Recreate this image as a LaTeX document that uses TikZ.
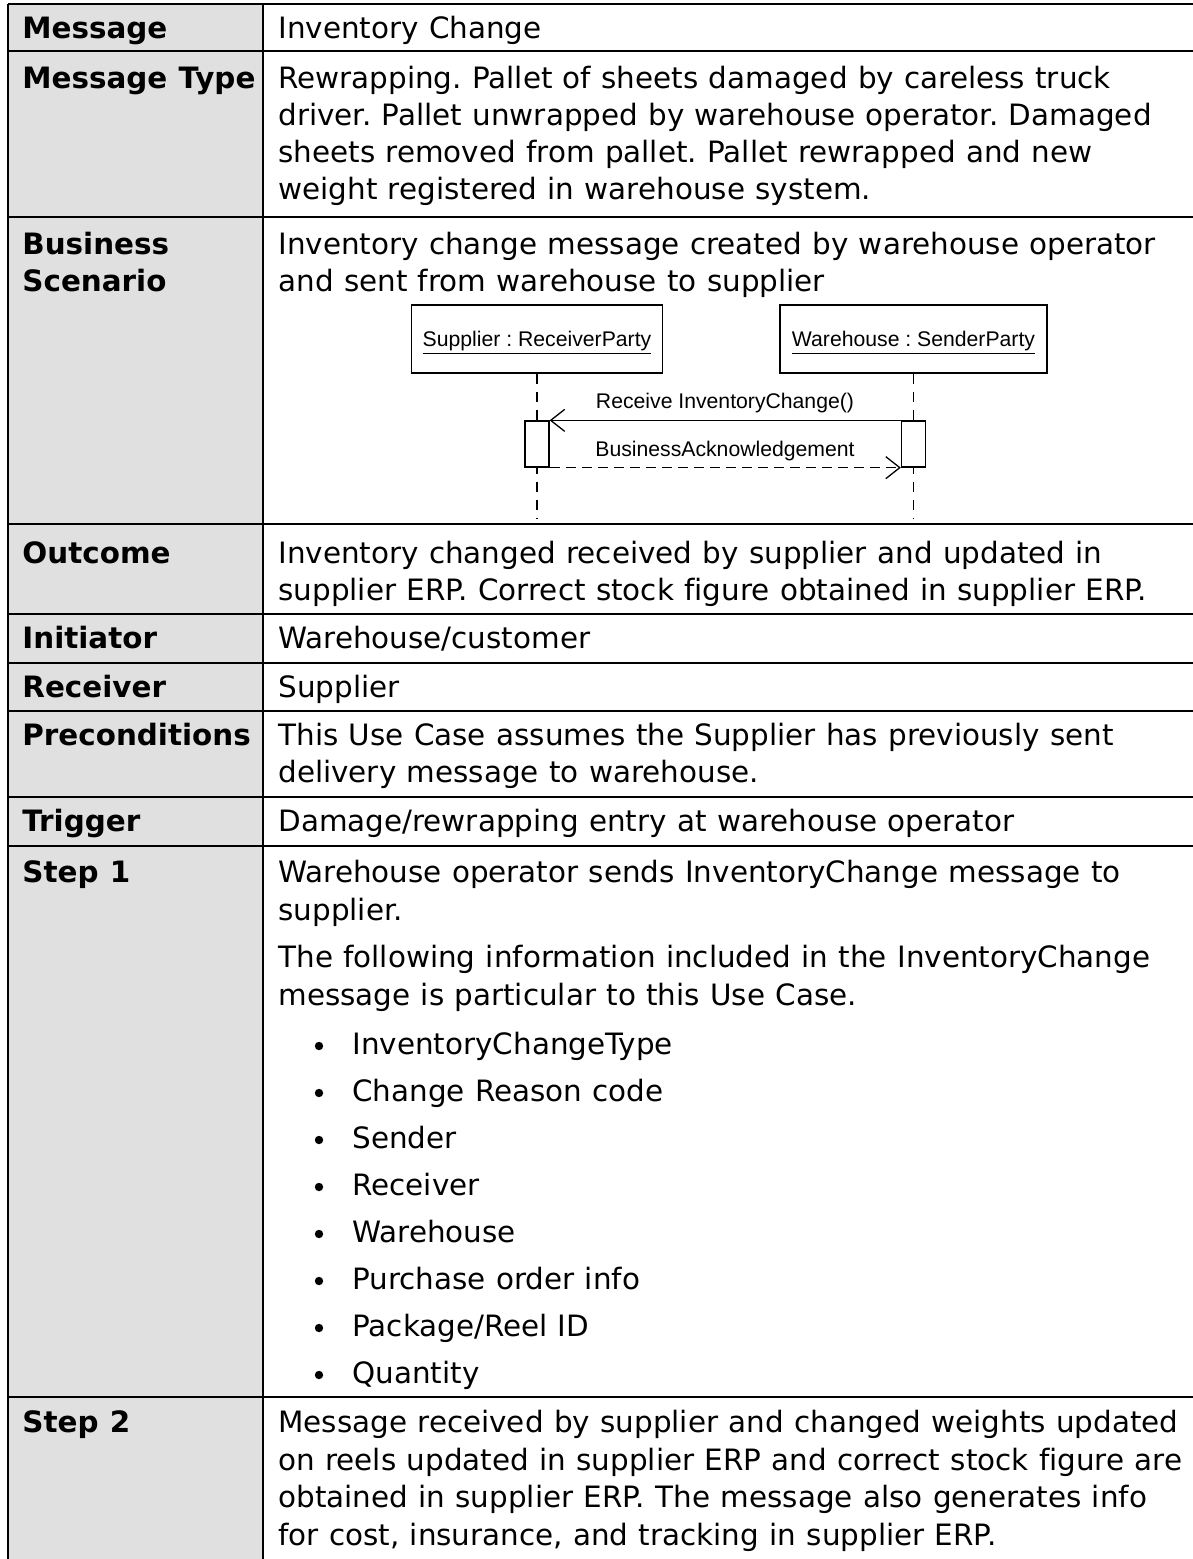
\documentclass[tikz,border=0pt]{standalone}
\usepackage{fontspec}
\setmainfont{DejaVu Sans}[Ligatures={NoCommon},WordSpace={1.107,0,0}]
\newfontfamily\umlfont{Liberation Sans}
\usetikzlibrary{arrows.meta}
\definecolor{hdrgray}{RGB}{224,224,224}
\frenchspacing

\begin{document}
\begin{tikzpicture}[x=0.5pt,y=-0.5pt,
  txt/.style={anchor=base west,inner sep=0pt,font=\fontsize{14.7}{17}\selectfont},
  hdr/.style={txt,font=\fontsize{14.7}{17}\selectfont\bfseries},
  dot/.style={circle,fill=black,inner sep=0pt,minimum size=4.2pt},
  rule/.style={line width=1.1pt},
  umltxt/.style={anchor=base,inner sep=0pt,font=\umlfont\fontsize{10.6}{12}\selectfont},
  objbox/.style={draw,line width=0.65pt,minimum height=34pt,inner sep=0pt},
  actbox/.style={draw,fill=white,line width=0.65pt,minimum width=12pt,minimum height=23pt,inner sep=0pt},
  lifeline/.style={line width=0.75pt,dash pattern=on 5pt off 4pt},
  msg/.style={line width=0.65pt,-{Straight Barb[length=7pt,width=11pt,line width=0.65pt]}},
]
\useasboundingbox (0,0) rectangle (1193,1559);

% header column shading
\fill[hdrgray] (8,4) rectangle (263,1559);

% table rules
\foreach \yy in {4,51,217,524,614,663,711,797,846,1397}
  \draw[rule] (8,\yy) -- (1193,\yy);
\draw[rule] (8,4) -- (8,1559);
\draw[rule] (263,4) -- (263,1559);

% row headings
\node[hdr] (hMsg)   at (22,38)   {Message};
\node[hdr] (hType)  at (22,88)   {Message Type};
\node[hdr] (hBus1)  at (22,254)  {Business};
\node[hdr] (hBus2)  at (22,291)  {Scenario};
\node[hdr] (hOut)   at (22,563)  {Outcome};
\node[hdr] (hInit)  at (22,648)  {Initiator};
\node[hdr] (hRecv)  at (22,697)  {Receiver};
\node[hdr] (hPre)   at (22,745)  {Preconditions};
\node[hdr] (hTrig)  at (22,831)  {Trigger};
\node[hdr] (hStep1) at (22,882)  {Step 1};
\node[hdr] (hStep2) at (22,1432) {Step 2};

% row contents
\node[txt] (vMsg) at (278,38) {Inventory Change};

\node[txt] (vType1) at (278,88)  {Rewrapping. Pallet of sheets damaged by careless truck};
\node[txt] (vType2) at (278,125) {driver. Pallet unwrapped by warehouse operator. Damaged};
\node[txt] (vType3) at (278,162) {sheets removed from pallet. Pallet rewrapped and new};
\node[txt] (vType4) at (278,199) {weight registered in warehouse system.};

\node[txt] (vBus1) at (278,254) {Inventory change message created by warehouse operator};
\node[txt] (vBus2) at (278,291) {and sent from warehouse to supplier};

\node[txt] (vOut1) at (278,563) {Inventory changed received by supplier and updated in};
\node[txt] (vOut2) at (278,600) {supplier ERP. Correct stock figure obtained in supplier ERP.};

\node[txt] (vInit) at (278,648) {Warehouse/customer};
\node[txt] (vRecv) at (278,697) {Supplier};

\node[txt] (vPre1) at (278,745) {This Use Case assumes the Supplier has previously sent};
\node[txt] (vPre2) at (278,782) {delivery message to warehouse.};

\node[txt] (vTrig) at (278,831) {Damage/rewrapping entry at warehouse operator};

\node[txt] (vS1a) at (278,882)  {Warehouse operator sends InventoryChange message to};
\node[txt] (vS1b) at (278,920)  {supplier.};
\node[txt] (vS1c) at (278,967)  {The following information included in the InventoryChange};
\node[txt] (vS1d) at (278,1005) {message is particular to this Use Case.};

\foreach \item [count=\k] in {InventoryChangeType,Change Reason code,Sender,Receiver,Warehouse,Purchase order info,Package/Reel ID,Quantity}{
  \node[dot] (dot\k) at (319,{1054+47*(\k-1)-8}) {};
  \node[txt] (item\k) at (352,{1054+47*(\k-1)}) {\item};
}

\node[txt] (vS2a) at (278,1432) {Message received by supplier and changed weights updated};
\node[txt] (vS2b) at (278,1470) {on reels updated in supplier ERP and correct stock figure are};
\node[txt] (vS2c) at (278,1507) {obtained in supplier ERP. The message also generates info};
\node[txt] (vS2d) at (278,1545) {for cost, insurance, and tracking in supplier ERP.};

% sequence diagram: participants
\node[objbox,minimum width=125.5pt] (sup) at (537,339) {};
\node[umltxt] (supT) at (537,346) {\underline{Supplier : ReceiverParty}};
\node[objbox,minimum width=133.5pt] (wh) at (913.5,339) {};
\node[umltxt] (whT) at (913.5,346) {\underline{Warehouse : SenderParty}};

% lifelines
\coordinate (supEnd) at (537,518);
\coordinate (whEnd) at (913.5,518);
\draw[lifeline] (sup.south) -- (supEnd);
\draw[lifeline] (wh.south) -- (whEnd);

% activations
\node[actbox] (supAct) at (537,444) {};
\node[actbox] (whAct) at (913.5,444) {};

% messages
\draw[msg] (whAct.north west) -- (supAct.north east);
\draw[msg,dash pattern=on 5pt off 3pt] (supAct.south east) -- (whAct.south west);

\node[umltxt] (m1) at (725,408) {Receive InventoryChange()};
\node[umltxt] (m2) at (725,456) {BusinessAcknowledgement};
\end{tikzpicture}
\end{document}
